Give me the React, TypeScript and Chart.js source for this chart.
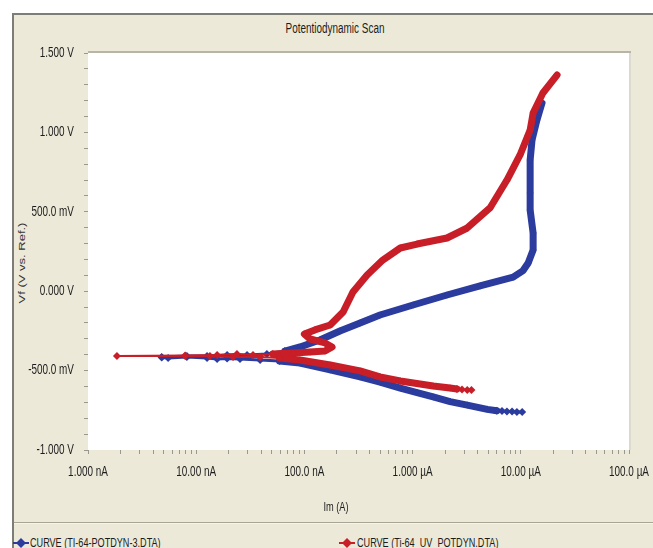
import React, { useEffect, useRef } from "react";
import { Chart, registerables } from "chart.js";

Chart.register(...registerables);

// ---- data (current in A, potential in V) ----
const blueName = "CURVE (TI-64-POTDYN-3.DTA)";
const redName = "CURVE (Ti-64_UV_POTDYN.DTA)";

const blueCurrent = [
  1.03e-5, 9.2e-6, 8.3e-6, 7.45e-6, 6.7e-6, 6.0e-6, 4.9e-6, 3.2e-6, 2.22e-6, 1.55e-6,
  1.1e-6, 7.7e-7, 5.0e-7, 3.27e-7, 1.73e-7, 9.1e-8, 5.9e-8, 3.9e-8, 2.54e-8, 1.93e-8,
  1.56e-8, 1.26e-8, 8.2e-9, 5.5e-9, 4.8e-9,
  4.8e-9, 8.2e-9, 1.26e-8, 1.93e-8, 2.95e-8, 4.5e-8, 6.6e-8, 9.1e-8, 1.39e-7, 2.13e-7,
  3.27e-7, 5.0e-7, 1.01e-6, 2.08e-6, 4.2e-6, 8.5e-6, 1.05e-5, 1.17e-5, 1.3e-5, 1.3e-5,
  1.22e-5, 1.22e-5, 1.22e-5, 1.27e-5, 1.41e-5, 1.57e-5,
];
const blueVoltage = [
  -0.761, -0.76, -0.758, -0.757, -0.755, -0.753, -0.744, -0.717, -0.695, -0.666,
  -0.638, -0.61, -0.572, -0.54, -0.496, -0.452, -0.44, -0.433, -0.427, -0.424,
  -0.427, -0.421, -0.414, -0.421, -0.417,
  -0.414, -0.408, -0.408, -0.402, -0.402, -0.395, -0.377, -0.351, -0.307, -0.251,
  -0.2, -0.15, -0.087, -0.024, 0.033, 0.089, 0.13, 0.178, 0.259, 0.366,
  0.511, 0.618, 0.826, 0.952, 1.078, 1.185,
];

const redCurrent = [
  3.5e-6, 3.2e-6, 2.86e-6, 2.57e-6, 2.22e-6, 1.55e-6, 7.7e-7, 5.0e-7, 3.27e-7, 1.73e-7,
  9.1e-8, 5.9e-8, 3.9e-8, 2.19e-8, 1.34e-8, 7.9e-9, 1.85e-9,
  7.9e-9, 1.56e-8, 2.38e-8, 3.35e-8, 5.1e-8, 7.9e-8, 1.13e-7, 1.55e-7, 1.8e-7, 1.55e-7,
  1.13e-7, 1.0e-7, 1.25e-7, 1.73e-7, 2.28e-7, 2.81e-7, 3.8e-7, 5.3e-7, 7.7e-7, 1.1e-6,
  2.08e-6, 3.2e-6, 5.19e-6, 7.45e-6, 9.84e-6, 1.22e-5, 1.3e-5, 1.6e-5, 2.16e-5,
];
const redVoltage = [
  -0.622, -0.622, -0.619, -0.616, -0.61, -0.597, -0.565, -0.54, -0.502, -0.465,
  -0.433, -0.421, -0.414, -0.414, -0.408, -0.408, -0.408,
  -0.405, -0.402, -0.395, -0.402, -0.395, -0.389, -0.383, -0.377, -0.351, -0.326,
  -0.301, -0.27, -0.244, -0.213, -0.131, -0.005, 0.102, 0.196, 0.272, 0.297,
  0.335, 0.398, 0.524, 0.7, 0.858, 1.015, 1.122, 1.248, 1.361,
];

const xTickValues = [1e-9, 1e-8, 1e-7, 1e-6, 1e-5, 1e-4];
const xTickLabels = ["1.000 nA", "10.00 nA", "100.0 nA", "1.000 µA", "10.00 µA", "100.0 µA"];
const yTickValues = [-1, -0.5, 0, 0.5, 1, 1.5];
const yTickLabels = ["-1.000 V", "-500.0 mV", "0.000 V", "500.0 mV", "1.000 V", "1.500 V"];
const xTitle = "Im (A)";
const yTitle = "Vf (V vs. Ref.)";
const chartTitle = "Potentiodynamic Scan";

const BLUE = "#2B3C9E";
const RED = "#C81E28";
const SANS = "'Liberation Sans', Arial, sans-serif";
const SX = 0.71; // horizontal condensation of the text
const TEXT = "#1c1c1c";

const toPoints = (xs: number[], ys: number[]) => xs.map((x, i) => ({ x, y: ys[i] }));

function makeDataset(
  label: string, xs: number[], ys: number[], color: string, tailV: number, order: number, thinW: number,
) {
  const sparse = (i: number) => xs[i] < 7e-8 || ys[i] < tailV;
  return {
    label,
    data: toPoints(xs, ys),
    showLine: true,
    borderColor: color,
    backgroundColor: color,
    pointBackgroundColor: color,
    pointBorderWidth: 0,
    pointStyle: "rectRot",
    pointRadius: (ctx: any) => (sparse(ctx.dataIndex) ? 4 : 3.5),
    borderWidth: 7,
    borderCapStyle: "round",
    borderJoinStyle: "round",
    tension: 0,
    order,
    segment: {
      borderWidth: (ctx: any) => (sparse(ctx.p0DataIndex) && sparse(ctx.p1DataIndex) ? thinW : 7),
    },
  };
}

function condensed(ctx: CanvasRenderingContext2D, text: string, x: number, y: number, align: CanvasTextAlign) {
  ctx.save();
  ctx.translate(x, y);
  ctx.scale(SX, 1);
  ctx.textAlign = align;
  ctx.textBaseline = "middle";
  ctx.fillText(text, 0, 0);
  ctx.restore();
}

const plotBg = {
  id: "plotBg",
  beforeDraw(chart: any) {
    const { ctx, chartArea: a } = chart;
    ctx.save();
    ctx.fillStyle = "#ffffff";
    ctx.fillRect(a.left, a.top, a.right - a.left, a.bottom - a.top);
    ctx.fillStyle = "#b8b5a7";
    ctx.fillRect(a.left, a.top - 2, a.right - a.left + 2, 2);
    ctx.fillStyle = "#dcd9ce";
    ctx.fillRect(a.right, a.top, 2, a.bottom - a.top);
    ctx.restore();
  },
  afterDraw(chart: any) {
    const { ctx, chartArea: a, scales } = chart;
    ctx.save();
    ctx.fillStyle = TEXT;
    ctx.font = `14px ${SANS}`;
    xTickValues.forEach((v, i) => {
      condensed(ctx, xTickLabels[i], scales.x.getPixelForValue(v), a.bottom + 22, "center");
    });
    yTickValues.forEach((v, i) => {
      condensed(ctx, yTickLabels[i], a.left - 14, scales.y.getPixelForValue(v), "right");
    });
    ctx.font = `13px ${SANS}`;
    condensed(ctx, xTitle, 322, a.bottom + 57, "center");
    ctx.restore();
  },
};

function Marker({ color }: { color: string }) {
  return (
    <svg width="16" height="12" viewBox="0 0 16 12" style={{ display: "block" }}>
      <line x1="0" y1="6" x2="16" y2="6" stroke={color} strokeWidth="2" />
      <polygon points="8,1 13,6 8,11 3,6" fill={color} />
    </svg>
  );
}

export default function App() {
  const ref = useRef<HTMLCanvasElement | null>(null);

  useEffect(() => {
    if (!ref.current) return;
    const chart = new Chart(ref.current, {
      type: "scatter",
      data: {
        datasets: [
          makeDataset(blueName, blueCurrent, blueVoltage, BLUE, -0.75, 1, 3) as any,
          makeDataset(redName, redCurrent, redVoltage, RED, -0.612, 0, 2) as any,
        ],
      },
      options: {
        animation: false,
        responsive: false,
        events: [],
        layout: { padding: { top: 38, right: 24, left: 0, bottom: 0 } },
        plugins: {
          legend: { display: false },
          tooltip: { enabled: false },
          title: { display: false },
        },
        scales: {
          x: {
            type: "logarithmic",
            min: 1e-9,
            max: 1e-4,
            afterBuildTicks: (scale: any) => {
              const t: { value: number }[] = [];
              for (let d = -9; d < -4; d++) {
                for (let m = 1; m <= 9; m++) t.push({ value: m * Math.pow(10, d) });
              }
              t.push({ value: 1e-4 });
              scale.ticks = t;
            },
            afterFit: (scale: any) => {
              scale.height = 71;
            },
            ticks: { display: false, autoSkip: false },
            grid: { drawOnChartArea: false, drawTicks: true, tickLength: 4, color: "#9a988e" },
            border: { display: false },
          },
          y: {
            type: "linear",
            min: -1,
            max: 1.5,
            afterBuildTicks: (scale: any) => {
              const t: { value: number }[] = [];
              for (let i = 0; i <= 25; i++) t.push({ value: Math.round((-1 + i * 0.1) * 10) / 10 });
              scale.ticks = t;
            },
            afterFit: (scale: any) => {
              scale.width = 74;
            },
            ticks: { display: false, autoSkip: false },
            grid: { drawOnChartArea: false, drawTicks: true, tickLength: 4, color: "#9a988e" },
            border: { display: false },
          },
        },
      } as any,
      plugins: [plotBg],
    });
    return () => chart.destroy();
  }, []);

  const legendText: React.CSSProperties = {
    position: "absolute",
    fontFamily: SANS,
    fontSize: 13,
    lineHeight: "16px",
    color: TEXT,
    whiteSpace: "nowrap",
    transformOrigin: "0 50%",
    transform: "scaleX(0.7)",
  };

  return (
    <div style={{ position: "absolute", left: 0, top: 0, width: 653, height: 548, background: "#ffffff", overflow: "hidden" }}>
      <div
        style={{
          position: "absolute",
          left: 12,
          top: 13,
          width: 641,
          height: 535,
          boxSizing: "border-box",
          background: "#ECE9D8",
          borderLeft: "2px solid #7d7d78",
          borderTop: "2px solid #7d7d78",
        }}
      />
      <div
        style={{
          position: "absolute",
          left: 235,
          top: 20,
          width: 200,
          textAlign: "center",
          fontFamily: SANS,
          fontSize: 14,
          lineHeight: "16px",
          color: TEXT,
          whiteSpace: "nowrap",
          transform: `scaleX(${SX})`,
        }}
      >
        {chartTitle}
      </div>
      <div
        style={{
          position: "absolute",
          left: 22,
          top: 263,
          transform: `translate(-50%, -50%) scaleX(${SX}) rotate(-90deg)`,
          fontFamily: SANS,
          fontSize: 13,
          lineHeight: "15px",
          color: "#333333",
          whiteSpace: "nowrap",
        }}
      >
        {yTitle}
      </div>
      <div style={{ position: "absolute", left: 14, top: 15, width: 639, height: 506 }}>
        <canvas ref={ref} width={639} height={506} style={{ display: "block" }} />
      </div>
      <div style={{ position: "absolute", left: 14, top: 522, width: 639, height: 1, background: "#a8a597" }} />
      <div style={{ position: "absolute", left: 14, top: 523, width: 639, height: 1, background: "#f6f4ec" }} />
      <div style={{ position: "absolute", left: 13, top: 537 }}>
        <Marker color={BLUE} />
      </div>
      <div style={{ ...legendText, left: 30, top: 535 }}>{blueName}</div>
      <div style={{ position: "absolute", left: 339, top: 537 }}>
        <Marker color={RED} />
      </div>
      <div style={{ ...legendText, left: 357, top: 535 }}>{redName}</div>
    </div>
  );
}
